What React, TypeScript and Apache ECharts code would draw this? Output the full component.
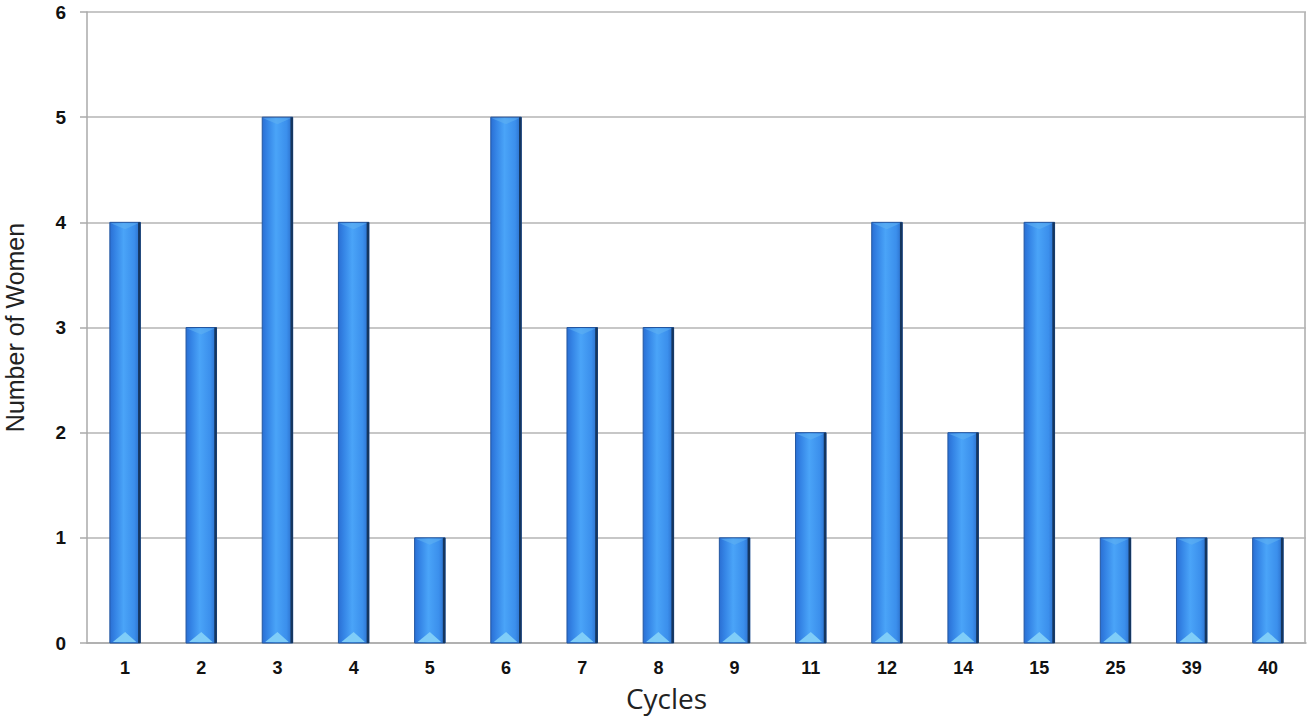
import React, { useEffect, useRef } from "react";
import * as echarts from "echarts";

const categories = ["1", "2", "3", "4", "5", "6", "7", "8", "9", "11", "12", "14", "15", "25", "39", "40"];
const women = [4, 3, 5, 4, 1, 5, 3, 3, 1, 2, 4, 2, 4, 1, 1, 1];
const yTicks = [0, 1, 2, 3, 4, 5, 6];

export default function App() {
  const ref = useRef<HTMLDivElement>(null);
  useEffect(() => {
    const chart = echarts.init(ref.current!, null, { renderer: "svg" });
    const renderItem = (params: any, api: any) => {
      const idx = api.value(0);
      const val = api.value(1);
      const p0 = api.coord([idx, 0]);
      const p1 = api.coord([idx, val]);
      const band = api.size([1, 0])[0];
      const w = band * 0.4;
      const x = p0[0] - w / 2;
      const y = p1[1];
      const h = p0[1] - p1[1];
      const tri = 11;
      return {
        type: "group",
        children: [
          {
            type: "rect",
            shape: { x, y, width: w, height: h },
            style: {
              fill: new echarts.graphic.LinearGradient(0, 0, 1, 0, [
                { offset: 0, color: "#2a6fd4" },
                { offset: 0.18, color: "#3585e6" },
                { offset: 0.45, color: "#4aa4f8" },
                { offset: 0.8, color: "#3b8fec" },
                { offset: 1, color: "#2a6cc8" },
              ]),
              stroke: "#2356a0",
              lineWidth: 1,
            },
          },
          {
            type: "line",
            shape: { x1: x + w - 1, y1: y, x2: x + w - 1, y2: y + h },
            style: { stroke: "#15365f", lineWidth: 2.5 },
          },
          {
            type: "polygon",
            shape: {
              points: [
                [x + 3, y + h - 1],
                [x + w / 2, y + h - tri],
                [x + w - 4, y + h - 1],
              ],
            },
            style: { fill: "#7fcdf8" },
          },
          {
            type: "polygon",
            shape: {
              points: [
                [x + 1, y + 1],
                [x + w - 2, y + 1],
                [x + w / 2, y + 7],
              ],
            },
            style: { fill: "#5fb0f2", opacity: 0.6 },
          },
        ],
      };
    };
    chart.setOption({
      animation: false,
      grid: { left: 87, right: 1, top: 12, bottom: 76, containLabel: false, outerBoundsMode: "none" },
      xAxis: {
        type: "category",
        data: categories,
        name: "Cycles",
        nameLocation: "middle",
        nameGap: 41,
        nameTextStyle: { fontFamily: "Open Sans", fontSize: 28, color: "#222", padding: [0, 60, 0, 0] },
        axisLine: { lineStyle: { color: "#aaa", width: 1.5 } },
        axisTick: { show: false },
        axisLabel: {
          fontFamily: "Liberation Sans",
          fontWeight: "bold",
          fontSize: 18,
          color: "#111",
          margin: 16,
        },
        splitLine: { show: false },
      },
      yAxis: {
        type: "value",
        min: yTicks[0],
        max: yTicks[yTicks.length - 1],
        interval: 1,
        name: "Number of Women",
        nameLocation: "middle",
        nameGap: 60,
        nameTextStyle: { fontFamily: "Liberation Sans", fontSize: 25, color: "#222" },
        axisLine: { show: true, lineStyle: { color: "#aaa", width: 1.5 } },
        axisTick: { show: true, length: 7, lineStyle: { color: "#aaa", width: 1.5 } },
        axisLabel: {
          fontFamily: "Liberation Sans",
          fontWeight: "bold",
          fontSize: 19,
          color: "#111",
          margin: 21,
        },
        splitLine: { show: true, lineStyle: { color: "#b5b5b5", width: 1.5 } },
      },
      series: [
        {
          type: "custom",
          renderItem,
          data: women.map((v, i) => [i, v]),
          encode: { x: 0, y: 1 },
        },
      ],
      graphic: [
        {
          type: "line",
          shape: { x1: 1305, y1: 12, x2: 1305, y2: 643 },
          style: { stroke: "#aaa", lineWidth: 1.5 },
        },
      ],
    });
    return () => chart.dispose();
  }, []);
  return <div ref={ref} style={{ width: 1307, height: 719, position: "absolute", left: 0, top: 0 }} />;
}
